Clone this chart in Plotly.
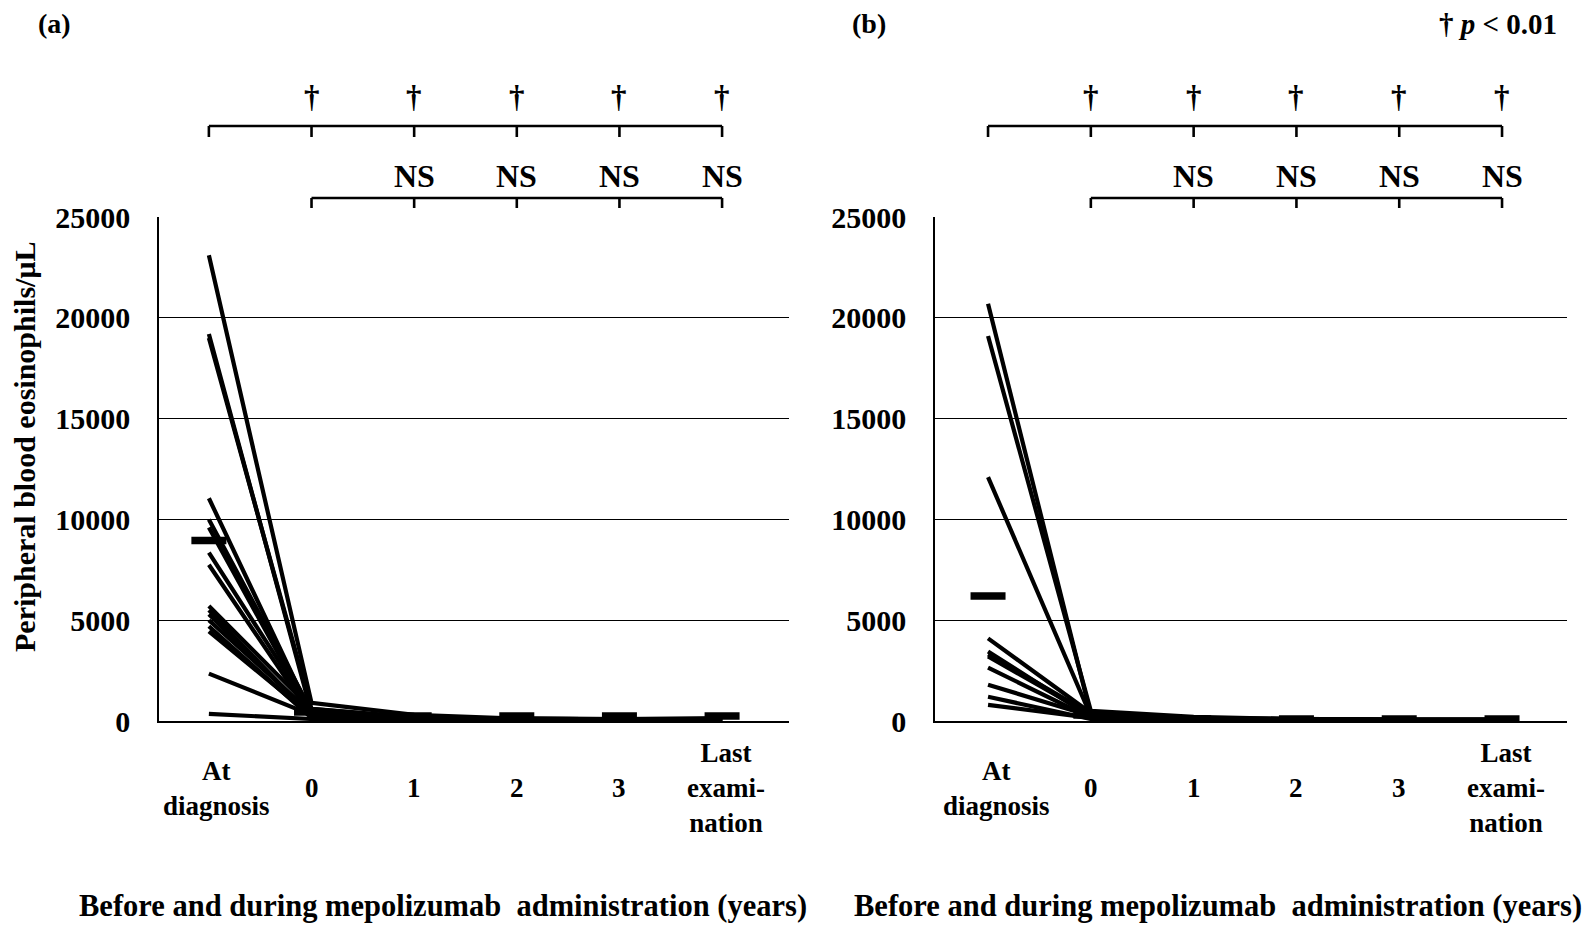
import plotly.graph_objects as go

# ---------------- data ----------------
categories = ["At diagnosis", "0", "1", "2", "3", "Last examination"]
cat_labels = ["At<br>diagnosis", "0", "1", "2", "3", "Last<br>exami-<br>nation"]
y_ticks = [0, 5000, 10000, 15000, 20000, 25000]
y_tick_labels = ["0", "5000", "10000", "15000", "20000", "25000"]

# Panel (a): values of each patient at each time point
a_diag = [23100, 19200, 19000, 11050, 10000, 9600, 8350, 7750, 5700, 5500, 5300, 5000, 4700, 4450, 2350, 350]
a_y0 = [900, 400, 600, 300, 500, 350, 450, 250, 600, 200, 300, 400, 150, 250, 300, 100]
a_y1 = [300, 150, 200, 100, 150, 120, 100, 80, 150, 60, 100, 120, 50, 80, 90, 40]
a_y2 = [120, 100, 80, 60, 100, 50, 80, 40, 90, 30, 60, 70, 30, 50, 60, 20]
a_y3 = [100, 80, 60, 50, 90, 40, 70, 30, 80, 30, 50, 60, 20, 40, 50, 20]
a_last = [150, 100, 60, 50, 80, 40, 60, 30, 90, 30, 50, 60, 20, 40, 50, 20]
a_mean = [8950, 450, 250, 250, 250, 250]

# Panel (b)
b_diag = [20700, 19100, 12100, 4100, 3450, 3300, 3200, 2650, 1800, 1200, 800]
b_y0 = [300, 500, 250, 400, 200, 350, 300, 150, 250, 100, 150]
b_y1 = [150, 200, 100, 120, 80, 100, 90, 60, 80, 40, 50]
b_y2 = [80, 100, 60, 70, 40, 60, 50, 30, 50, 20, 30]
b_y3 = [60, 80, 50, 60, 40, 50, 40, 30, 40, 20, 30]
b_last = [70, 80, 50, 60, 40, 50, 40, 30, 40, 20, 30]
b_mean = [6200, 300, 100, 100, 100, 100]

dagger_cats = [1, 2, 3, 4, 5]
ns_cats = [2, 3, 4, 5]

# ---------------- figure ----------------
W, H = 1594, 926
OX, OY = 6, 8  # page offset compensation
FONT = "Liberation Serif"
xpos = list(range(len(categories)))


def px(x):
    return (x - OX) / W


def py(y):
    return 1 - (y - OY) / H


fig = go.Figure()


def add_panel(diag, y0, y1, y2, y3, last, mean, xa, ya):
    for i in range(len(diag)):
        fig.add_trace(go.Scatter(
            x=xpos, y=[diag[i], y0[i], y1[i], y2[i], y3[i], last[i]],
            mode="lines", line=dict(color="black", width=4.2),
            xaxis=xa, yaxis=ya, showlegend=False, hoverinfo="skip"))
    fig.add_trace(go.Scatter(
        x=xpos, y=mean, mode="markers",
        marker=dict(symbol="line-ew", size=25, line=dict(color="black", width=7.5)),
        xaxis=xa, yaxis=ya, showlegend=False))


add_panel(a_diag, a_y0, a_y1, a_y2, a_y3, a_last, a_mean, "x", "y")
add_panel(b_diag, b_y0, b_y1, b_y2, b_y3, b_last, b_mean, "x2", "y2")

ydom = [py(721), py(217)]
yax = dict(range=[0, 25000], tickvals=y_ticks, ticktext=y_tick_labels,
           showgrid=True, gridcolor="black", gridwidth=1.3,
           showline=True, linecolor="black", linewidth=1.6,
           zeroline=False, ticks="", ticklabelstandoff=21, automargin=False,
           tickfont=dict(family=FONT, size=30, color="black", weight="bold"),
           domain=ydom, fixedrange=True)
xax = dict(showgrid=False, zeroline=False, showticklabels=False, ticks="", automargin=False,
           showline=True, linecolor="black", linewidth=2.2, fixedrange=True)

fig.update_layout(
    width=W, height=H, margin=dict(l=0, r=0, t=0, b=0, pad=0, autoexpand=False),
    paper_bgcolor="white", plot_bgcolor="white", showlegend=False,
    xaxis=dict(xax, domain=[px(157), px(787)], range=[-0.486, 5.652]),
    xaxis2=dict(xax, domain=[px(933), px(1565)], range=[-0.516, 5.632], anchor="y2"),
    yaxis=dict(yax, anchor="x"),
    yaxis2=dict(yax, anchor="x2"),
)

annots = []
shapes = []
lw = 2.6
for xr in ["x", "x2"]:
    # category labels
    for i, lab in enumerate(cat_labels):
        shift = 8 if i == 0 else (4 if i == 5 else 0)
        annots.append(dict(x=i, xref=xr, y=py(788), yref="paper", text=lab,
                           showarrow=False, xanchor="center", yanchor="middle", xshift=shift,
                           font=dict(family=FONT, size=27, color="black", weight="bold")))
    # top bracket (dagger)
    y_top, y_top_t = py(126), py(137)
    shapes.append(dict(type="line", xref=xr, yref="paper", x0=0, x1=5, y0=y_top, y1=y_top,
                       line=dict(color="black", width=lw)))
    for i in range(6):
        shapes.append(dict(type="line", xref=xr, yref="paper", x0=i, x1=i, y0=y_top, y1=y_top_t,
                           line=dict(color="black", width=lw)))
    for i in dagger_cats:
        annots.append(dict(x=i, xref=xr, y=py(96), yref="paper", text="†",
                           showarrow=False, xanchor="center", yanchor="middle",
                           font=dict(family=FONT, size=31, color="black", weight="bold")))
    # NS bracket
    y_ns, y_ns_t = py(198), py(208)
    shapes.append(dict(type="line", xref=xr, yref="paper", x0=1, x1=5, y0=y_ns, y1=y_ns,
                       line=dict(color="black", width=lw)))
    for i in range(1, 6):
        shapes.append(dict(type="line", xref=xr, yref="paper", x0=i, x1=i, y0=y_ns, y1=y_ns_t,
                           line=dict(color="black", width=lw)))
    for i in ns_cats:
        annots.append(dict(x=i, xref=xr, y=py(176), yref="paper", text="NS",
                           showarrow=False, xanchor="center", yanchor="middle",
                           font=dict(family=FONT, size=32, color="black", weight="bold")))

# axis titles
xt = "Before and during mepolizumab  administration (years)"
for cx in [441, 1216]:
    annots.append(dict(x=px(cx), y=py(906), xref="paper", yref="paper", text=xt,
                       showarrow=False, xanchor="center", yanchor="middle",
                       font=dict(family=FONT, size=30.5, color="black", weight="bold")))
annots.append(dict(x=px(22), y=py(447), xref="paper", yref="paper",
                   text="Peripheral blood eosinophils/μL", textangle=-90,
                   showarrow=False, xanchor="center", yanchor="middle",
                   font=dict(family=FONT, size=30, color="black", weight="bold")))
# panel labels
annots.append(dict(x=px(52), y=py(24), xref="paper", yref="paper", text="(a)",
                   showarrow=False, xanchor="center", yanchor="middle",
                   font=dict(family=FONT, size=28, color="black", weight="bold")))
annots.append(dict(x=px(867), y=py(24), xref="paper", yref="paper", text="(b)",
                   showarrow=False, xanchor="center", yanchor="middle",
                   font=dict(family=FONT, size=28, color="black", weight="bold")))
annots.append(dict(x=px(1557), y=py(24), xref="paper", yref="paper",
                   text="† <i>p</i> < 0.01",
                   showarrow=False, xanchor="right", yanchor="middle",
                   font=dict(family=FONT, size=29, color="black", weight="bold")))

fig.update_layout(annotations=annots, shapes=shapes)
fig.write_html("out.html")
